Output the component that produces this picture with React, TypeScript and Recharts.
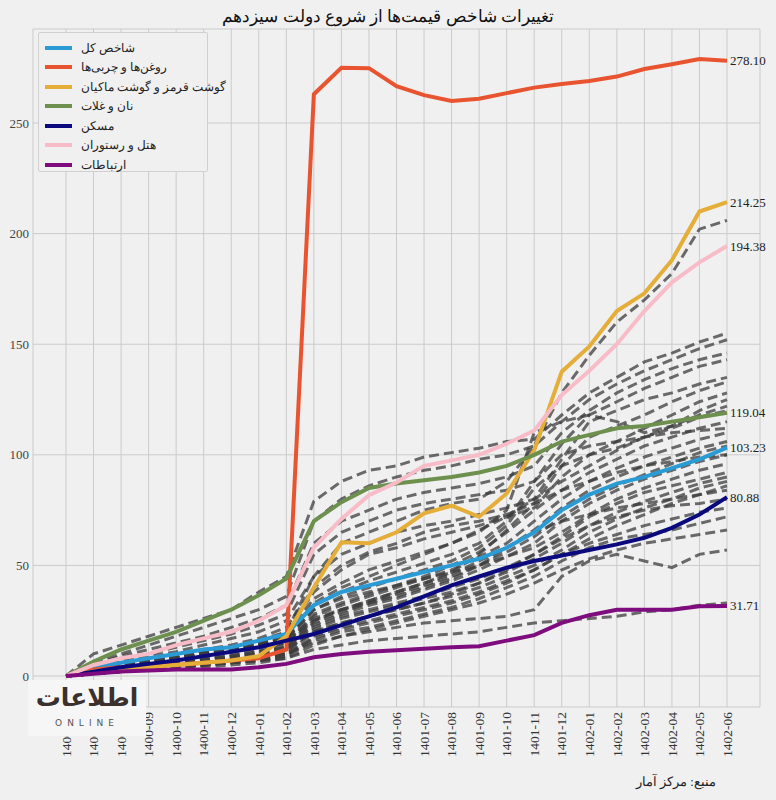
import React from "react";
import { LineChart, Line, XAxis, YAxis, CartesianGrid, Legend } from "recharts";

const months = [
  "1400-06", "1400-07", "1400-08", "1400-09", "1400-10", "1400-11", "1400-12",
  "1401-01", "1401-02", "1401-03", "1401-04", "1401-05", "1401-06", "1401-07",
  "1401-08", "1401-09", "1401-10", "1401-11", "1401-12", "1402-01", "1402-02",
  "1402-03", "1402-04", "1402-05", "1402-06",
];

const totalIndex = [0, 4, 6, 8, 10, 12, 13, 16, 19, 32, 38, 41, 44, 47, 50, 53, 58, 65, 75, 82, 87, 90, 94, 98, 103.23];
const oils = [0, 3, 4, 5, 5, 6, 7, 8, 12, 263, 275, 274.8, 266.7, 262.6, 260, 261, 263.5, 266, 267.6, 269, 271, 274.4, 276.6, 278.9, 278.1];
const meat = [0, 2, 3, 4, 5, 6, 7, 9, 18, 40, 60.5, 60, 65, 73.5, 77, 72, 82.5, 102, 137.6, 149, 165, 173, 188, 210, 214.25];
const bread = [0, 6.5, 12, 16, 20, 25, 30, 36.5, 44, 70, 78.6, 85, 87, 88.5, 90, 92, 95, 100, 106, 109, 112, 113, 115, 117, 119.04];
const housing = [0, 2, 4, 5.5, 7, 9, 11, 13, 16, 19, 23, 27, 31, 36, 41, 45, 49, 52, 54.5, 57, 59.5, 62.5, 67, 73, 80.88];
const hotels = [0, 5, 8, 10, 14, 17, 20, 25, 32, 58, 71, 81.7, 87.5, 95, 97.5, 100, 105, 111, 127, 138, 150, 165, 178, 187, 194.38];
const telecom = [0, 1, 2, 2.5, 3, 3, 3, 4, 5.5, 8.5, 10, 11, 11.7, 12.3, 13, 13.5, 16, 18.5, 24, 27.5, 30, 30, 30, 31.5, 31.71];

// other sub-indices, drawn as grey dashed lines without a legend entry
const otherGroups = [
  [0, 3, 5, 7, 9, 11, 13, 15, 20, 45, 60, 65, 70, 75, 78, 80, 88, 104, 128, 145, 160, 170, 182, 202, 206],
  [0, 10, 14, 18, 22, 26, 30, 38, 45, 79, 88, 93, 95, 99, 101, 103, 106, 107, 118, 128, 135, 142, 146, 151, 155],
  [0, 6, 10, 14, 18, 22, 26, 30, 36, 70, 80, 86, 90, 93, 95, 98, 100, 104, 115, 125, 132, 138, 143, 148, 152],
  [0, 5, 9, 12, 15, 18, 22, 26, 32, 60, 70, 75, 80, 83, 85, 87, 90, 95, 110, 120, 128, 134, 139, 143, 146],
  [0, 4, 7, 10, 13, 16, 19, 23, 28, 55, 65, 70, 75, 78, 80, 82, 84, 88, 105, 118, 124, 130, 135, 140, 143],
  [0, 4, 7, 9, 11, 14, 17, 20, 25, 45, 55, 60, 65, 68, 70, 73, 76, 80, 98, 115, 120, 125, 128, 132, 135],
  [0, 3, 6, 8, 10, 12, 14, 17, 22, 40, 50, 56, 60, 65, 68, 70, 73, 78, 95, 108, 113, 118, 124, 129, 133],
  [0, 3, 5, 7, 9, 11, 13, 16, 20, 38, 48, 55, 58, 62, 65, 68, 72, 76, 90, 100, 106, 112, 118, 124, 128],
  [0, 3, 5, 7, 9, 11, 13, 15, 19, 35, 42, 48, 52, 56, 60, 66, 72, 80, 88, 95, 102, 108, 113, 118, 122],
  [0, 2, 4, 6, 8, 10, 12, 14, 17, 30, 36, 40, 44, 48, 52, 58, 68, 85, 95, 100, 103, 108, 112, 117, 120],
  [0, 2, 4, 5, 7, 9, 11, 13, 16, 28, 33, 37, 41, 45, 50, 56, 65, 75, 84, 92, 98, 104, 108, 112, 115],
  [0, 2, 3, 5, 7, 8, 10, 12, 15, 27, 32, 36, 40, 44, 48, 54, 60, 70, 80, 88, 94, 99, 103, 107, 110],
  [0, 2, 3, 5, 6, 8, 9, 11, 14, 25, 30, 34, 38, 42, 46, 52, 58, 66, 76, 84, 90, 95, 99, 103, 106],
  [0, 1, 3, 4, 6, 7, 9, 11, 13, 24, 29, 33, 37, 41, 45, 50, 56, 63, 72, 80, 86, 91, 96, 101, 104],
  [0, 1, 3, 4, 5, 7, 8, 10, 13, 23, 28, 32, 35, 39, 43, 48, 54, 60, 70, 78, 84, 89, 93, 97, 100],
  [0, 2, 4, 6, 8, 10, 12, 14, 17, 30, 35, 38, 41, 44, 47, 50, 54, 58, 65, 73, 80, 85, 89, 93, 96],
  [0, 1, 2, 4, 5, 6, 8, 9, 12, 22, 27, 30, 33, 36, 40, 44, 49, 55, 63, 72, 78, 83, 86, 89, 92],
  [0, 1, 2, 3, 5, 6, 7, 9, 11, 21, 26, 29, 32, 35, 38, 42, 47, 53, 60, 68, 74, 79, 83, 87, 90],
  [0, 1, 2, 3, 4, 5, 7, 8, 10, 20, 24, 27, 30, 33, 36, 40, 45, 50, 57, 65, 71, 76, 80, 85, 88],
  [0, 1, 2, 3, 4, 5, 6, 7, 9, 18, 22, 25, 28, 31, 34, 38, 43, 48, 55, 62, 68, 73, 78, 82, 86],
  [0, 2, 3, 5, 7, 9, 11, 13, 15, 25, 30, 33, 36, 40, 44, 50, 58, 65, 70, 73, 76, 78, 80, 82, 84],
  [0, 1, 3, 4, 6, 7, 9, 10, 12, 20, 24, 27, 30, 33, 37, 42, 48, 55, 62, 68, 72, 75, 77, 78, 80],
  [0, 1, 2, 3, 4, 5, 6, 8, 10, 17, 21, 24, 27, 30, 33, 37, 42, 48, 55, 60, 64, 68, 71, 74, 76],
  [0, 1, 2, 3, 4, 5, 6, 7, 9, 16, 20, 22, 25, 28, 31, 35, 40, 45, 52, 58, 62, 64, 66, 69, 72],
  [0, 2, 3, 4, 5, 6, 7, 8, 10, 15, 18, 20, 22, 24, 25, 26, 27, 30, 45, 52, 55, 52, 49, 55, 57],
  [0, 1, 2, 3, 3, 4, 5, 6, 8, 12, 14, 16, 17, 18, 19, 20, 22, 24, 25, 26, 27, 29, 30, 32, 33],
  [0, 1, 2, 3, 4, 5, 6, 7, 8, 14, 18, 21, 24, 27, 30, 33, 37, 42, 48, 53, 57, 60, 62, 64, 66],
  [0, 2, 4, 6, 8, 10, 12, 14, 16, 26, 30, 34, 38, 42, 47, 55, 66, 78, 84, 88, 92, 95, 97, 99, 100],
  [0, 3, 5, 7, 9, 11, 13, 15, 18, 32, 38, 43, 47, 51, 55, 60, 70, 88, 100, 104, 106, 108, 110, 111, 112],
  [0, 2, 4, 6, 8, 10, 12, 14, 17, 33, 40, 45, 50, 55, 60, 65, 75, 110, 115, 118, 115, 110, 113, 120, 125],
];

const mainSeries = [
  { key: "total", name: "شاخص کل", color: "#2a9bd4", values: totalIndex },
  { key: "oils", name: "روغن‌ها و چربی‌ها", color: "#e8542f", values: oils },
  { key: "meat", name: "گوشت قرمز و گوشت ماکیان", color: "#e5ae38", values: meat },
  { key: "bread", name: "نان و غلات", color: "#6d904f", values: bread },
  { key: "housing", name: "مسکن", color: "#0a0a7e", values: housing },
  { key: "hotels", name: "هتل و رستوران", color: "#f8bcc8", values: hotels },
  { key: "telecom", name: "ارتباطات", color: "#7e0c7e", values: telecom },
];

const rows = months.map((m, i) => {
  const row: Record<string, number | string> = { month: m };
  mainSeries.forEach((s) => (row[s.key] = s.values[i]));
  otherGroups.forEach((g, j) => (row[`other${j}`] = g[i]));
  return row;
});

const FONT = "'Liberation Serif', 'DejaVu Serif', serif";
const last = months.length - 1;

const EndLabel = (props: any) => {
  const { x, y, index, value } = props;
  if (index !== last) return null;
  return (
    <text x={x + 3} y={y} dy="0.35em" fontSize={13} fontFamily={FONT} fill="#222">
      {Number(value).toFixed(2)}
    </text>
  );
};

const MonthTick = (props: any) => {
  const { x, y, payload } = props;
  return (
    <g transform={`translate(${x},${y})`}>
      <text transform="rotate(-90)" textAnchor="end" dy="0.35em" fontSize={13.5} fontFamily={FONT} fill="#333">
        {payload.value}
      </text>
    </g>
  );
};

const LegendBox = () => (
  <div
    style={{
      position: "absolute",
      left: 38,
      top: 32,
      width: 170,
      height: 140,
      padding: "5px 0 0 6px",
      border: "1px solid #d0d0d0",
      borderRadius: 2,
      background: "#f0f0f0",
      fontFamily: FONT,
      fontSize: 11.5,
      color: "#222",
      boxSizing: "border-box",
    }}
  >
    {mainSeries.map((s) => (
      <div key={s.key} style={{ display: "flex", alignItems: "center", height: 19.5, whiteSpace: "nowrap" }}>
        <span style={{ display: "inline-block", width: 27, height: 4, background: s.color, marginRight: 9, flex: "none" }} />
        <span dir="rtl">{s.name}</span>
      </div>
    ))}
  </div>
);

export default function App() {
  return (
    <div style={{ position: "absolute", left: 0, top: 0, width: 776, height: 800, background: "#f0f0f0", overflow: "hidden" }}>
      <div
        dir="rtl"
        style={{ position: "absolute", top: 6, left: 0, width: 776, textAlign: "center", fontFamily: FONT, fontSize: 17, color: "#111" }}
      >
        تغییرات شاخص قیمت‌ها از شروع دولت سیزدهم
      </div>
      <LineChart width={776} height={800} data={rows} margin={{ top: 29, right: 16, bottom: 0, left: 0 }}>
        <CartesianGrid stroke="#cbcbcb" strokeWidth={1} />
        <XAxis
          dataKey="month"
          interval={0}
          padding={{ left: 33, right: 33 }}
          axisLine={false}
          tickLine={false}
          tickSize={0}
          tickMargin={5}
          height={93}
          tick={<MonthTick />}
        />
        <YAxis
          width={33}
          domain={[-14, 292.5]}
          ticks={[0, 50, 100, 150, 200, 250]}
          axisLine={false}
          tickLine={false}
          tickSize={0}
          tickMargin={4}
          tick={{ fontSize: 13, fontFamily: FONT, fill: "#444" }}
        />
        {otherGroups.map((_, j) => (
          <Line
            key={`other${j}`}
            dataKey={`other${j}`}
            stroke="#3c3c3c"
            strokeOpacity={0.75}
            strokeWidth={3}
            strokeDasharray="10 5"
            dot={false}
            legendType="none"
            isAnimationActive={false}
          />
        ))}
        {mainSeries.map((s) => (
          <Line
            key={s.key}
            dataKey={s.key}
            name={s.name}
            stroke={s.color}
            strokeWidth={4}
            dot={false}
            label={<EndLabel />}
            isAnimationActive={false}
          />
        ))}
        <Legend content={() => null} />
      </LineChart>
      <LegendBox />
      <div
        dir="rtl"
        style={{ position: "absolute", left: 636, top: 774, fontFamily: FONT, fontSize: 12.5, color: "#222" }}
      >
        منبع: مرکز آمار
      </div>
      <div
        style={{
          position: "absolute",
          left: 28,
          top: 680,
          width: 118,
          height: 56,
          background: "#f6f6f6",
          textAlign: "center",
          fontFamily: "'DejaVu Sans', sans-serif",
          color: "#3a302e",
        }}
      >
        <div style={{ fontSize: 25, fontWeight: 700, lineHeight: "36px" }}>اطلاعات</div>
        <div style={{ fontSize: 9, letterSpacing: 5, color: "#555", lineHeight: "14px" }}>ONLINE</div>
      </div>
    </div>
  );
}
